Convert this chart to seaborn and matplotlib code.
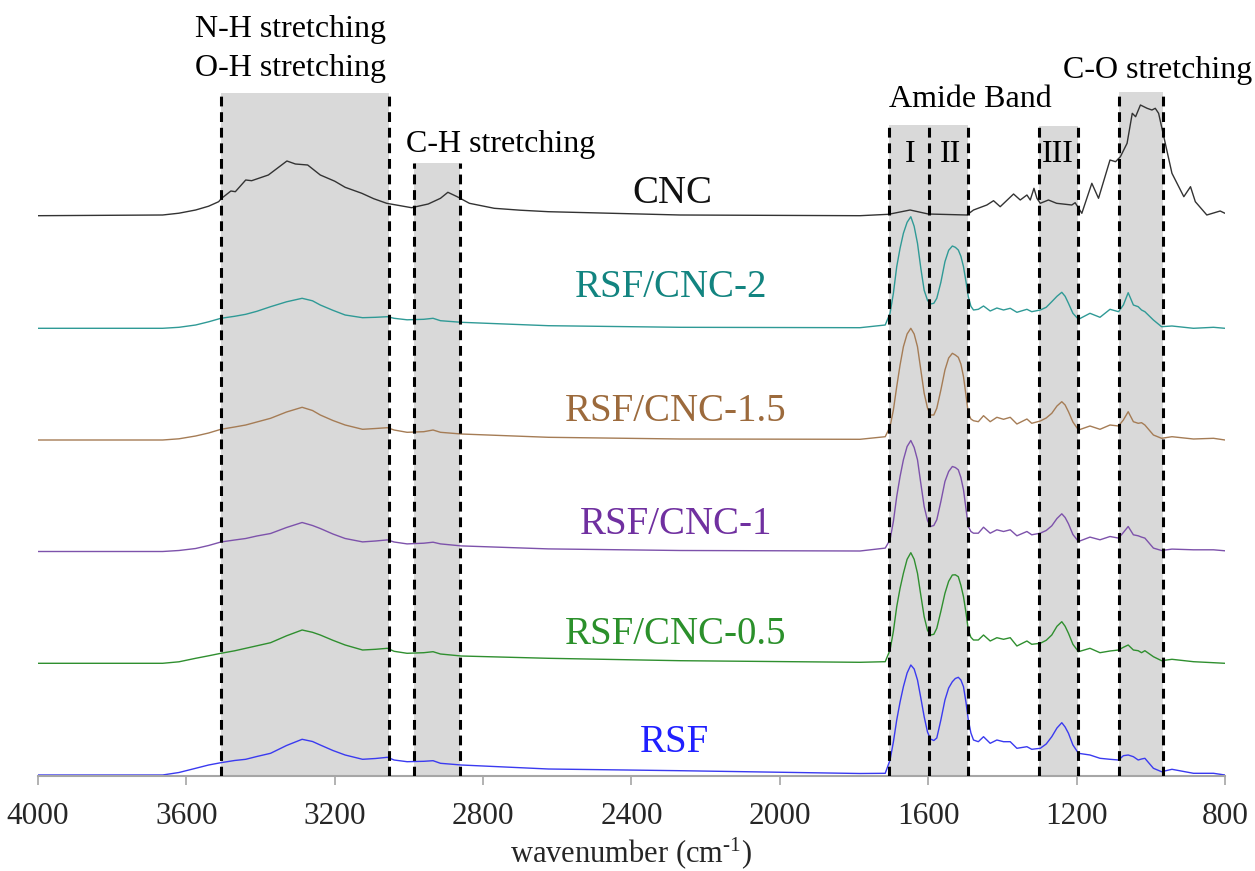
import numpy as np
import pandas as pd
import matplotlib
matplotlib.use("Agg")
import matplotlib.pyplot as plt
import seaborn as sns

sns.set_theme(style="white")
plt.rcParams["font.family"] = ["Liberation Serif", "DejaVu Serif"]
plt.rcParams["mathtext.fontset"] = "custom"
plt.rcParams["mathtext.rm"] = "Liberation Serif"
plt.rcParams["mathtext.it"] = "Liberation Serif:italic"

# ---------------- data ----------------
samples = ["CNC", "RSF/CNC-2", "RSF/CNC-1.5", "RSF/CNC-1", "RSF/CNC-0.5", "RSF"]
offsets = [559.3, 446.7, 335.0, 223.5, 111.7, 0.0]

cnc_wn = [4000, 3664, 3620, 3575, 3540, 3513, 3505, 3480, 3468, 3440, 3424, 3379, 3329, 3306,
          3273, 3239, 3200, 3172, 3127, 3095, 3060, 2993, 2948, 2915, 2895, 2870, 2837, 2770,
          2700, 2624, 2269, 1784, 1707, 1649, 1600, 1496, 1478, 1442, 1424, 1406, 1370, 1352,
          1334, 1325, 1315, 1307, 1298, 1276, 1254, 1213, 1204, 1186, 1159, 1141, 1110, 1095,
          1082, 1064, 1050, 1041, 1028, 1010, 997, 988, 979, 965, 943, 911, 893, 880, 849,
          813, 800]
cnc_int = [0, 0.7, 2.5, 5.7, 9.5, 14, 17.4, 24.7, 24, 35.7, 35, 40.7, 54.7, 51.7,
           50.7, 40.7, 34.5, 28.4, 22.4, 17, 12.4, 8, 11.7, 17.4, 23.4, 19, 12.4, 7.4,
           5.5, 4, 0.7, 0, 1.4, 5.7, 1.7, 0.7, 5.7, 10.7, 15, 9, 21.7, 15.7,
           20.7, 15.7, 27.4, 17.4, 12.4, 15.7, 12.4, 10.7, 13, 2.4, 32.4, 17.4, 55.7, 54,
           59, 72.4, 102.4, 99, 110.7, 107.4, 105.7, 107.4, 102.4, 79, 42.4, 19, 29, 14, 0.7,
           4.7, 2.4]

rsf_wn = [4000, 3664, 3620, 3575, 3540, 3507, 3470, 3440, 3410, 3373, 3330, 3288, 3260, 3239,
          3205, 3172, 3125, 3090, 3058, 3040, 3005, 2960, 2935, 2915, 2859, 2624, 2269, 1784,
          1716, 1703, 1694, 1685, 1676, 1667, 1657, 1647, 1638, 1629, 1620, 1611, 1602, 1594,
          1585, 1577, 1566, 1555, 1545, 1535, 1527, 1519, 1512, 1505, 1498, 1492, 1485, 1478,
          1465, 1451, 1433, 1415, 1397, 1379, 1361, 1334, 1321, 1298, 1282, 1267, 1253, 1240,
          1231, 1222, 1210, 1195, 1164, 1137, 1110, 1087, 1074, 1061, 1047, 1034, 1025, 1016,
          993, 971, 943, 885, 831, 800]

cnc2_int = [0, 0, 1, 3.3, 6.5, 10, 12, 14, 17, 21.6, 26.5, 30, 27.5, 23.3,
            18, 13.3, 10.6, 11, 11.6, 10, 8.5, 9, 10, 7.6, 6, 2.6, 1, 0.6,
            3.3, 15, 35, 61.6, 80, 95, 106, 111.6, 102, 85, 60, 38, 28, 24.3,
            25, 30, 46, 66.6, 78, 82.3, 81, 78.3, 72, 61.6, 46, 31.6, 22, 18.3,
            19, 22.3, 17.3, 20.3, 18.3, 20, 16, 19, 16.6, 18.3, 21, 26.6, 32, 36,
            32, 25, 15, 9, 15, 11, 19, 16.6, 23.3, 35.6, 23.3, 21.6, 18.3, 16.6,
            8.3, 1.6, 2.3, 0, 1, 0]
cnc15_int = [0, 0, 1.2, 4, 7, 10.7, 13, 15, 18, 21.7, 28, 32.7, 29.5, 25,
             19.5, 15, 10.7, 11.5, 12.3, 10, 7.7, 8.3, 10, 7.7, 6, 2.7, 1, 0.7,
             3.3, 13.3, 30, 53.3, 75, 93.3, 106, 111.7, 106, 93.3, 70, 46.7, 32, 25,
             25, 31.7, 50, 70, 82, 86.7, 85, 82.7, 76, 63.3, 44, 26.7, 21, 19.3,
             18.3, 24.3, 18.3, 22.7, 20.7, 22.7, 16, 21, 16.7, 19, 22, 26.7, 34, 38.3,
             35, 28.3, 18, 10, 14, 10.7, 15, 14, 20, 28.3, 18.3, 16.7, 17.3, 15,
             5, 1.7, 3.3, 1, 1.7, 0]
cnc1_int = [0, 0, 1, 3, 6, 9.5, 11.5, 13, 15.5, 18, 24, 29, 26, 23,
            17.5, 13, 9.6, 10.5, 11.6, 9.5, 7.6, 8.3, 9.3, 7.6, 5.6, 2.6, 1, 0.5,
            3.4, 11.7, 30, 55, 75, 91.7, 105, 111, 104, 91.7, 68, 45, 31, 25,
            26, 31.7, 50, 70, 80, 85, 84, 81.7, 74, 61.7, 42, 25, 20, 18.3,
            18.3, 24.3, 18.3, 21.7, 20, 21.7, 15.7, 20, 16.7, 18.3, 21, 25.7, 33, 37.7,
            34, 27.7, 17, 10, 14.4, 11.7, 15, 13.4, 19, 25, 16.7, 15.7, 14.4, 13.4,
            3.4, 1, 2.4, 1.7, 1.7, 0.7]
cnc05_int = [0, 0, 1.5, 5, 7.5, 10, 12.5, 15, 17.5, 20.6, 27.5, 33.3, 31, 28.3,
             23, 18.3, 13.3, 14, 15, 12, 10, 10.6, 11.6, 9.3, 7.3, 5, 2.6, 1,
             1.6, 13.3, 32, 56.6, 75, 90, 104, 110.6, 104, 90, 68, 46.6, 33, 28.3,
             29, 35, 52, 70, 82, 88.3, 88.5, 86.6, 78, 66.6, 50, 33.3, 26, 23.3,
             23.3, 28.3, 22.3, 25.6, 24, 25.6, 17.3, 22.3, 19, 20, 23, 28.3, 37, 41.6,
             37, 30, 19, 11.6, 15, 10.6, 12.3, 13.3, 16, 18.3, 13.3, 12.6, 10.6, 12.6,
             6.6, 2.6, 4, 1.6, 0.6, 0]
rsf_int = [0, 0, 2.5, 6.7, 10, 12.3, 14.5, 15.7, 18.5, 21.7, 29.5, 35.7, 33.5, 30,
           24.5, 20, 15.7, 16.5, 17.7, 15, 13.3, 13.7, 14.3, 11.7, 10, 6, 4.3, 1.5,
           1.7, 15, 33, 55, 73, 88.3, 102, 110, 106, 95, 77, 58.3, 43, 36,
           34.5, 37, 55, 75, 87, 93.3, 96.5, 97.7, 95, 88.3, 72, 55, 42, 35,
           33.3, 38.3, 31.7, 35, 33.3, 33.3, 26.7, 28.3, 25.7, 26.7, 31, 38.3, 47, 52.3,
           48, 41.7, 30, 21.7, 20, 16.7, 15.7, 15, 19.3, 20, 18.3, 15, 16, 16.7,
           6.7, 3.3, 5.7, 1.7, 1.7, 0]

line_colors = ["#333333", "#2f9a96", "#a57c55", "#7d52ab", "#2f8f2f", "#3a3af0"]
text_colors = ["#111111", "#128480", "#9c6a3c", "#7030a0", "#2b902b", "#2020ff"]

# shaded band limits (wavenumber) and their top heights
bands = [(3507, 3054, 681.5), (2986, 2862, 611.7), (1707, 1598, 649.5),
         (1598, 1494, 649.5), (1301, 1195, 649.3), (1086, 968, 683.3)]

xticks = [4000, 3600, 3200, 2800, 2400, 2000, 1600, 1200, 800]

# ---------------- build table ----------------
series = [(cnc_wn, cnc_int), (rsf_wn, cnc2_int), (rsf_wn, cnc15_int),
          (rsf_wn, cnc1_int), (rsf_wn, cnc05_int), (rsf_wn, rsf_int)]
frames = []
for name, (wn, it), off in zip(samples, series, offsets):
    frames.append(pd.DataFrame({"wavenumber": wn,
                                "absorbance": np.asarray(it, float) + off,
                                "sample": name}))
df = pd.concat(frames, ignore_index=True)

# ---------------- figure ----------------
W, H = 1255, 871
fig = plt.figure(figsize=(W / 100, H / 100), dpi=100)
ax = fig.add_axes([38 / W, 95 / H, 1187 / W, 776 / H])

for x1, x2, top in bands:
    ax.fill_between([x1, x2], -1, top, color="#d9d9d9", linewidth=0, zorder=0)
edges = {}
for x1, x2, top in bands:
    edges[x1] = max(edges.get(x1, 0), top)
    edges[x2] = max(edges.get(x2, 0), top)
for x, top in edges.items():
    ax.plot([x, x], [-1, top], color="black", linewidth=2.2,
            linestyle=(0, (3.2, 1.9)), zorder=3)

sns.lineplot(data=df, x="wavenumber", y="absorbance", hue="sample",
             hue_order=samples, palette=line_colors, estimator=None, sort=False,
             legend=False, linewidth=1.0, ax=ax, zorder=2)

ax.set_xlim(4000, 800)
ax.set_ylim(-1, 775)
ax.set_xticks(xticks)
ax.set_xticklabels([str(t) for t in xticks])
ax.set_yticks([])
ax.set_ylabel("")
sns.despine(ax=ax, left=True, top=True, right=True)
ax.spines["bottom"].set_color("#a6a6a6")
ax.spines["bottom"].set_linewidth(1.5)
ax.tick_params(axis="x", direction="out", length=6.5, width=1.2, color="#a6a6a6",
               labelsize=22.5, pad=12, bottom=True)
ax.set_xlabel("wavenumber (cm$^{\u2010 1}$)", fontsize=22)
ax.xaxis.set_label_coords(0.5, -0.1108)
ax.xaxis.label.set_va("baseline")

# sample labels
lab_pos = [(2289, 571.7), (2292, 477.7), (2280, 354), (2280, 241), (2280, 131), (2283, 23)]
for name, (x, y), c in zip(samples, lab_pos, text_colors):
    ax.text(x, y, name, ha="center", va="baseline", fontsize=28, color=c)

ann = [("N-H stretching", 3318, 738.3), ("O-H stretching", 3318, 699),
       ("C-H stretching", 2753, 623.3), ("Amide Band", 1487, 668.3),
       ("C-O stretching", 982, 697), ("I", 1649, 613.3), ("II", 1541, 613.3),
       ("III", 1251, 613.3)]
for t, x, y in ann:
    ax.text(x, y, t, ha="center", va="baseline", fontsize=23, color="black",
            clip_on=False)

fig.savefig("out.png", dpi=100)
